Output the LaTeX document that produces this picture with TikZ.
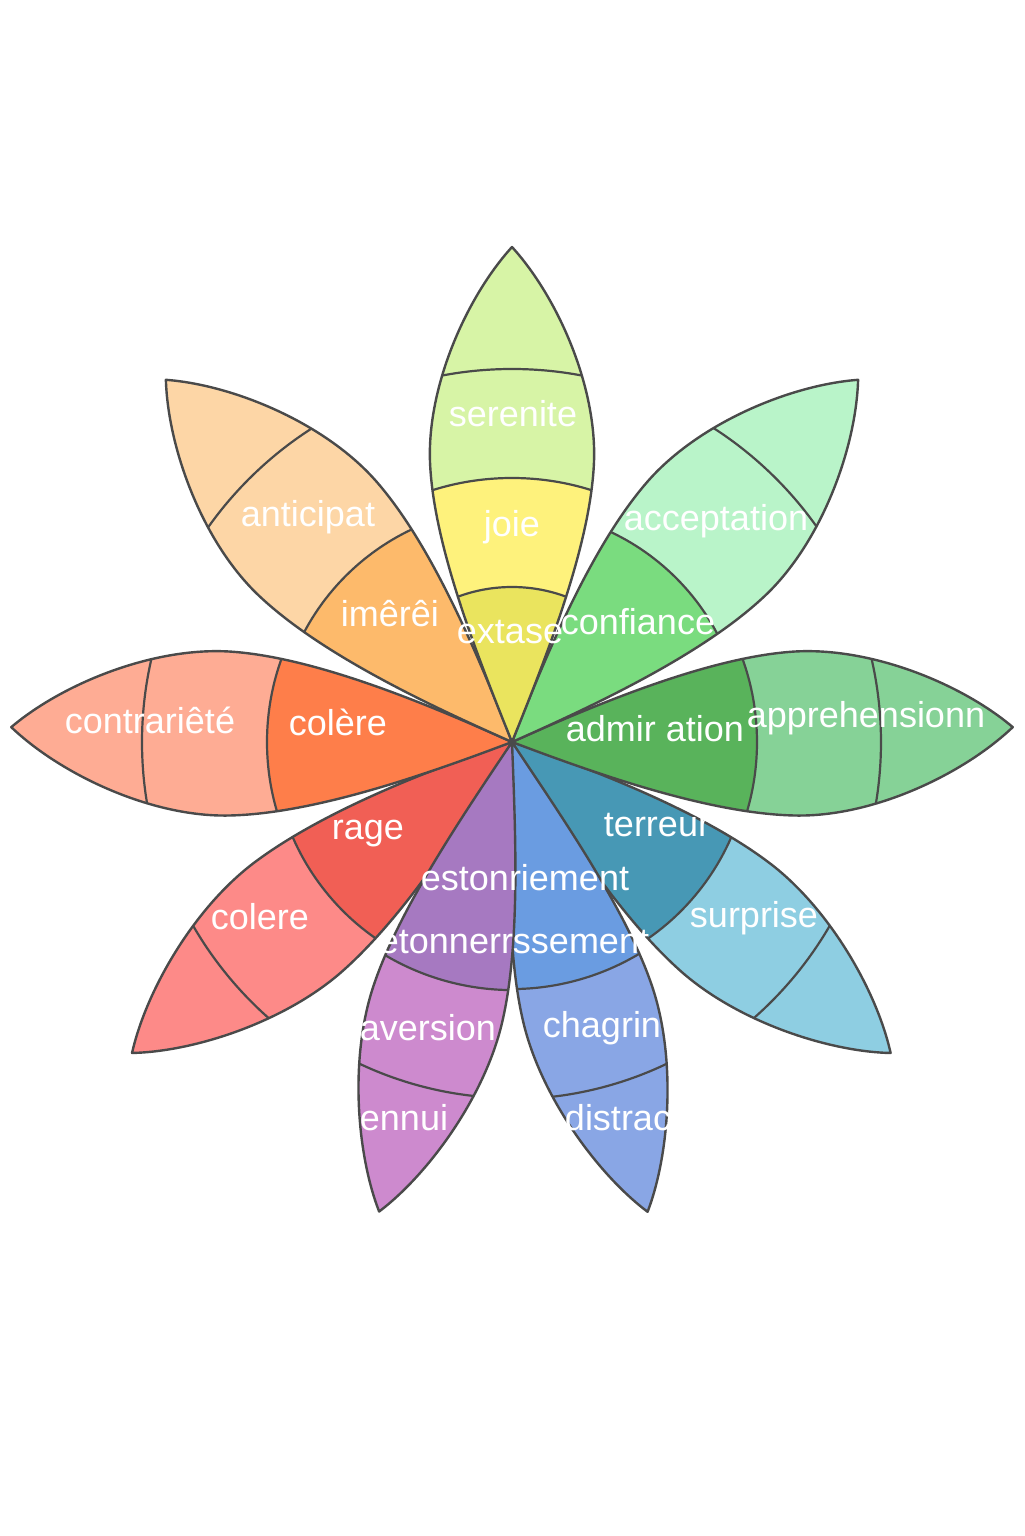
\documentclass[tikz,border=0pt]{standalone}
\usepackage{fontspec}
\setmainfont{Liberation Sans}

% ring colours, inner to outer
\definecolor{edgegray}{HTML}{4A4A4A}
\definecolor{extase}{HTML}{EAE45E}
\definecolor{joie}{HTML}{FEF27C}
\definecolor{serenite}{HTML}{D7F4A6}
\definecolor{confiance}{HTML}{7ADC7F}
\definecolor{acceptation}{HTML}{B9F4C9}
\definecolor{admiration}{HTML}{59B35B}
\definecolor{apprehension}{HTML}{86D297}
\definecolor{terreur}{HTML}{4798B5}
\definecolor{surprise}{HTML}{8ECEE2}
\definecolor{chagrinA}{HTML}{6A9CE1}
\definecolor{chagrinB}{HTML}{89A6E5}
\definecolor{aversionA}{HTML}{A679C1}
\definecolor{aversionB}{HTML}{CD8ACE}
\definecolor{rage}{HTML}{F15F55}
\definecolor{colereB}{HTML}{FD8A88}
\definecolor{colereA}{HTML}{FE7E4A}
\definecolor{contrariete}{HTML}{FEAC94}
\definecolor{interet}{HTML}{FDBA6B}
\definecolor{anticipation}{HTML}{FDD6A6}

\tikzset{
  outline/.style={draw=edgegray, line width=1.2pt, line join=round},
  band/.style={draw=edgegray, line width=1.1pt},
  emotion/.style={text=white, font=\fontsize{18}{20}\selectfont, inner sep=0pt},
  % petal lying on the x axis: length \L, half width \W, half angle \h at the centre
  petal path/.style={insert path={
    (0,0) .. controls ({0.18*\L},{0.18*\L*tan(\h)}) and ({0.40*\L},{0.96*\W}) .. ({0.566*\L},{\W})
          .. controls ({0.72*\L},{1.035*\W}) and ({0.9*\L},{0.55*\W}) .. (\L,0)
          .. controls ({0.9*\L},{-0.55*\W}) and ({0.72*\L},{-1.035*\W}) .. ({0.566*\L},{-\W})
          .. controls ({0.40*\L},{-0.96*\W}) and ({0.18*\L},{-0.18*\L*tan(\h)}) .. (0,0) -- cycle}},
}

\begin{document}
\begin{tikzpicture}[x=0.5pt, y=0.5pt]
\useasboundingbox (-512,-794) rectangle (512,742);

\foreach \a/\L/\W/\h/\ra/\rb/\rc/\ca/\cb/\cc/\cd in {
  -39.4/490/70/21/239/367/600/terreur/surprise/surprise/surprise,
  -140.7/491/70/21/239/368/600/rage/colereB/colereB/colereB,
  -73.9/489/67/17.5/247/357/600/chagrinA/chagrinB/chagrinB/chagrinB,
  -105.8/488/67/18/248/356/600/aversionA/aversionB/aversionB/aversionB,
  1.7/501/82/22.5/245/369/600/admiration/apprehension/apprehension/apprehension,
  178.3/501/82/22.5/245/370/600/colereA/contrariete/contrariete/contrariete,
  46.3/501/82/22.5/232/373/600/confiance/acceptation/acceptation/acceptation,
  133.7/501/82/22.5/235/372/600/interet/anticipation/anticipation/anticipation,
  90/495/82/22/155/264/373/extase/joie/serenite/serenite}
{
  \begin{scope}[rotate=\a]
    \begin{scope}
      \clip (0,0) [petal path];
      \fill[\cd] (0,0) circle[radius=620];
      \fill[\cc] (0,0) circle[radius=\rc];
      \fill[\cb] (0,0) circle[radius=\rb];
      \fill[\ca] (0,0) circle[radius=\ra];
      \draw[band] (0,0) circle[radius=\ra] (0,0) circle[radius=\rb] (0,0) circle[radius=\rc];
    \end{scope}
    \draw[outline] (0,0) [petal path];
  \end{scope}
}

% labels
\node[emotion] (serenite) at (1,328) {serenite};
\node[emotion] (joie) at (0,215) {joie};
\node[emotion] (extase) at (-2,110) {extase};
\node[emotion] (acceptation) at (204,221) {acceptation};
\node[emotion] (confiance) at (126,120) {confiance};
\node[emotion] (admiration) at (143,13) {admir ation};
\node[emotion] (apprehension) at (354,24) {apprehensionn};
\node[emotion] (terreur) at (145,-83) {terreur};
\node[emotion] (surprise) at (242,-176) {surprise};
\node[emotion] (estonriement) at (13,-136) {estonriement};
\node[emotion] (etonnement) at (2,-200) {etonnerrssement};
\node[emotion] (chagrin) at (90,-286) {chagrin};
\node[emotion] (distrac) at (106,-376) {distrac};
\node[emotion] (aversion) at (-84,-286) {aversion};
\node[emotion] (ennui) at (-108,-376) {ennui};
\node[emotion] (rage) at (-144,-92) {rage};
\node[emotion] (colere) at (-252,-175) {colere};
\node[emotion] (colereA) at (-174,20) {colère};
\node[emotion] (contrariete) at (-362,22) {contrariêté};
\node[emotion] (interet) at (-122,128) {imêrêi};
\node[emotion] (anticipat) at (-204,225) {anticipat};
\end{tikzpicture}
\end{document}
